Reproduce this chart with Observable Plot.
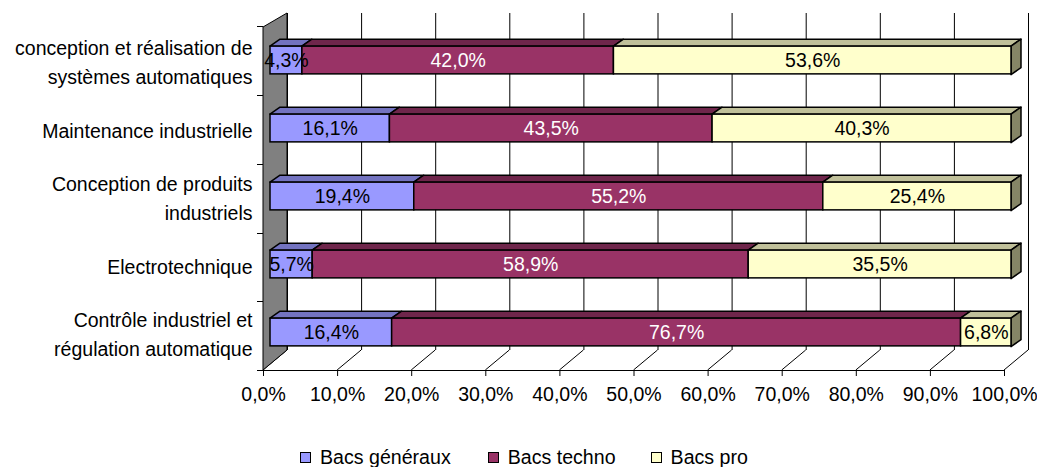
<!DOCTYPE html>
<html><head><meta charset="utf-8">
<script src="https://cdn.jsdelivr.net/npm/d3@7"></script>
<script src="https://cdn.jsdelivr.net/npm/@observablehq/plot@0.6"></script>
<style>
body{margin:0;background:#fff;font-family:"Liberation Sans",Arial,sans-serif;}
#wrap{position:relative;width:1037px;height:467px;overflow:hidden;}
#legend{position:absolute;left:300px;top:446px;height:22px;display:flex;align-items:center;font-size:19.6px;color:#000;white-space:nowrap;}
.item{display:flex;align-items:center;}
.sw{width:9px;height:9px;border:1px solid #000;margin-right:9px;}
</style></head><body><div id="wrap"></div>
<script>
const categories = [
  "conception et réalisation de systèmes automatiques",
  "Maintenance industrielle",
  "Conception de produits industriels",
  "Electrotechnique",
  "Contrôle industriel et régulation automatique"
];
const categoryLabels = [
  "conception et réalisation de\nsystèmes automatiques",
  "Maintenance industrielle",
  "Conception de produits\nindustriels",
  "Electrotechnique",
  "Contrôle industriel et\nrégulation automatique"
];
const series = ["Bacs généraux", "Bacs techno", "Bacs pro"];
const bacsGeneraux = [4.3, 16.1, 19.4, 5.7, 16.4];
const bacsTechno = [42.0, 43.5, 55.2, 58.9, 76.7];
const bacsPro = [53.6, 40.3, 25.4, 35.5, 6.8];
const xTicks = [0, 0.1, 0.2, 0.3, 0.4, 0.5, 0.6, 0.7, 0.8, 0.9, 1.0];

const frontColors = ["#9999ff", "#993366", "#ffffcc"];
const topColors = ["#7373c0", "#6f264b", "#c0c09a"];
const sideColors = ["#4d4d80", "#4d1a33", "#858566"];
const labelColors = ["#000000", "#ffffff", "#000000"];

const seriesValues = [bacsGeneraux, bacsTechno, bacsPro];
const table = [];
categories.forEach((c, i) => series.forEach((s, j) => table.push({cat: c, series: s, j, value: seriesValues[j][i]})));

const fmtPct = v => v.toFixed(1).replace(".", ",") + "%";

// 3D geometry (pixels)
const W = 1037, H = 440, mTop = 23.875, mBot = 72.375, mLeft = 270, mRight = 26;
const INSET = 20.125;          // bar inset in band
const BAR_DX = 10, BAR_DY = 7; // bar depth
const AX_FRONT = -7;           // axis front offset from bar front
const AX_BACK = 17;            // back wall offset from bar front
const FLOOR_OFF = 2.375;       // floor front below band range
const FLOOR_DY = 20, WALL_TOP_BACK = 13, WALL_TOP_FRONT = 27;

function backdrop(index, scales, values, dims) {
  const x = scales.x;
  const floorF = dims.height - dims.marginBottom + FLOOR_OFF;
  const floorB = floorF - FLOOR_DY;
  const g = d3.create("svg:g");
  const x0f = x(0) + AX_FRONT, x0b = x(0) + AX_BACK;
  xTicks.forEach(t => {
    g.append("line").attr("x1", x(t) + AX_BACK + 0.5).attr("x2", x(t) + AX_BACK + 0.5)
      .attr("y1", WALL_TOP_BACK).attr("y2", floorB).attr("stroke", "#000").attr("stroke-width", 1);
    g.append("line").attr("x1", x(t) + AX_FRONT).attr("y1", floorF)
      .attr("x2", x(t) + AX_BACK).attr("y2", floorB).attr("stroke", "#000").attr("stroke-width", 1);
    g.append("line").attr("x1", x(t) + AX_FRONT + 0.5).attr("x2", x(t) + AX_FRONT + 0.5)
      .attr("y1", floorF).attr("y2", floorF + 6).attr("stroke", "#000");
  });
  g.append("line").attr("x1", x0f).attr("x2", x(1) + AX_FRONT).attr("y1", floorF + 0.5).attr("y2", floorF + 0.5).attr("stroke", "#000");
  g.append("path").attr("d", `M${x0f},${WALL_TOP_FRONT}L${x0b},${WALL_TOP_BACK}L${x0b},${floorB}L${x0f},${floorF}Z`)
    .attr("fill", "#808080").attr("stroke", "#000").attr("stroke-width", 1);
  const n = categories.length, bw = (dims.height - dims.marginTop - dims.marginBottom) / n;
  for (let k = 0; k <= n; k++) {
    const yy = Math.round(dims.marginTop + k * bw + FLOOR_OFF) + 0.5;
    g.append("line").attr("x1", x0f - 6).attr("x2", x0f).attr("y1", yy).attr("y2", yy).attr("stroke", "#000");
  }
  return g.node();
}

function barDepth(index, scales, values, dims) {
  const x = scales.x, y = scales.y;
  const n = categories.length, bw = (dims.height - dims.marginTop - dims.marginBottom) / n;
  const g = d3.create("svg:g");
  categories.forEach((c, i) => {
    const vals = seriesValues.map(a => a[i]);
    const total = d3.sum(vals);
    let cum = 0;
    const yt = y(c) + INSET, yb = y(c) + bw - INSET;
    vals.forEach((v, j) => {
      const x1 = x(cum / total), x2 = x((cum + v) / total);
      cum += v;
      g.append("path").attr("d", `M${x1},${yt}L${x1 + BAR_DX},${yt - BAR_DY}L${x2 + BAR_DX},${yt - BAR_DY}L${x2},${yt}Z`)
        .attr("fill", topColors[j]).attr("stroke", "#000").attr("stroke-width", 1.5).attr("stroke-linejoin", "round");
      if (j === vals.length - 1) {
        g.append("path").attr("d", `M${x2},${yt}L${x2 + BAR_DX},${yt - BAR_DY}L${x2 + BAR_DX},${yb - BAR_DY}L${x2},${yb}Z`)
          .attr("fill", sideColors[j]).attr("stroke", "#000").attr("stroke-width", 1.5).attr("stroke-linejoin", "round");
      }
    });
  });
  return g.node();
}

const chart = Plot.plot({
  width: W, height: H,
  marginTop: mTop, marginBottom: mBot, marginLeft: mLeft, marginRight: mRight,
  style: {fontFamily: "'Liberation Sans', Arial, sans-serif", fontSize: "19px", background: "#fff", overflow: "visible"},
  x: {domain: [0, 1], axis: null, label: null},
  y: {domain: categories, padding: 0, axis: null, label: null},
  color: {domain: series, range: frontColors},
  marks: [
    backdrop,
    barDepth,
    Plot.barX(table, Plot.stackX({x: "value", y: "cat", fill: "series", offset: "normalize",
      stroke: "#000", strokeWidth: 1.5, insetTop: INSET, insetBottom: INSET})),
    ...series.map((s, j) => Plot.text(table, Plot.filter(d => d.j === j, Plot.stackX({x: "value", y: "cat", offset: "normalize",
      text: d => fmtPct(d.value), fill: labelColors[j], fontSize: 19.5})))),
    Plot.text(categories, {y: d => d, frameAnchor: "left", text: (d, i) => categoryLabels[i],
      textAnchor: "end", dx: -18, dy: 0, fontSize: 19.5, lineHeight: 1.45, fill: "#000"}),
    Plot.axisX(xTicks, {tickFormat: d => fmtPct(d * 100), dx: AX_FRONT, dy: FLOOR_OFF, tickSize: 0, tickPadding: 17, fontSize: 19.5, fill: "#000", label: null})
  ]
});
document.getElementById("wrap").appendChild(chart);

const legend = d3.select("#wrap").append("div").attr("id", "legend");
const gaps = [0, 37, 35];
series.forEach((s, j) => {
  const it = legend.append("div").attr("class", "item").style("margin-left", gaps[j] + "px");
  it.append("div").attr("class", "sw").style("background", frontColors[j]);
  it.append("span").text(s);
});
</script></body></html>
